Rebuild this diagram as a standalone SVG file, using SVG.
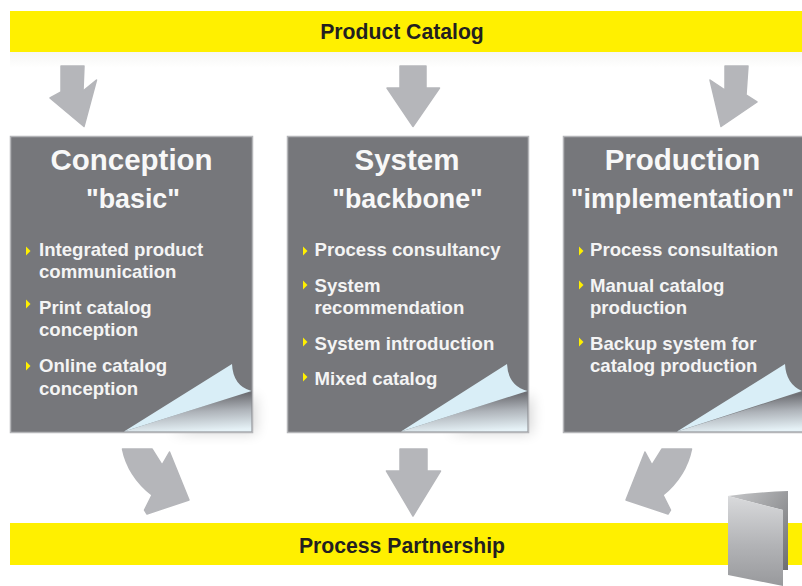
<svg xmlns="http://www.w3.org/2000/svg" width="802" height="586" viewBox="0 0 802 586">
<style>
.bar{fill:#fff000}
.bt{font:bold 21.200px "Liberation Sans",Arial,sans-serif;fill:#231f20;text-anchor:middle}
.box{fill:#76777b;stroke:#b4b5b8;stroke-width:1.5}
.ti{font:bold 29.500px "Liberation Sans",Arial,sans-serif;fill:#f8f8f8;text-anchor:middle}
.su{font:bold 26.800px "Liberation Sans",Arial,sans-serif;fill:#f8f8f8;text-anchor:middle}
.it{font:bold 18.600px "Liberation Sans",Arial,sans-serif;fill:#f4f4f4}
.bu{fill:#fff000}
.ar{fill:#b5b6ba;stroke:#b5b6ba;stroke-width:1.5;stroke-linejoin:round}
.fold{fill:#d9eef7}
.under{fill:url(#under)}
.shade{fill:#000;opacity:.16;filter:url(#blur)}
</style>
<defs>
<linearGradient id="under" gradientUnits="objectBoundingBox" x1=".42" y1="0.15" x2=".55" y2="1">
<stop offset="0" stop-color="#6f7075"/><stop offset=".45" stop-color="#aeb3b9"/><stop offset="1" stop-color="#e6f2f7"/>
</linearGradient>
<linearGradient id="front" x1="0" y1="0" x2="0" y2="1">
<stop offset="0" stop-color="#d9dadc"/><stop offset=".55" stop-color="#b2b3b6"/><stop offset="1" stop-color="#98999c"/>
</linearGradient>
<linearGradient id="back" x1="0" y1="0" x2="1" y2="1">
<stop offset="0" stop-color="#c8c9cb"/><stop offset="1" stop-color="#6d6e71"/>
</linearGradient>
<linearGradient id="glow" x1="0" y1="0" x2="0" y2="1">
<stop offset="0" stop-color="#f6f6f4"/><stop offset="1" stop-color="#fff"/>
</linearGradient>
<filter id="blur" x="-30%" y="-30%" width="160%" height="160%"><feGaussianBlur stdDeviation="7"/></filter>
<path id="tip" d="M0-4.500 4.500 0 0 4.500Z"/>
</defs>

<rect x="10" y="52" width="792" height="16" fill="url(#glow)"/>

<g id="connectors">
<path class="ar" d="M61 66H84L83 91 96.500 80 84 126.500 50 98 61 92Z"/>
<path class="ar" d="M400 66H426V88H439.500L413 126.500 387 88H400Z"/>
<path class="ar" d="M725 66H748L746 95 757 102 721 126.500 710 80 725 90Z"/>
<path class="ar" d="M122.500 449H152L162 465 169.500 452 189 500 147 514 144.500 510 152 495Q128 476 122.500 449Z"/>
<path class="ar" d="M400 449H427V471H440.500L413 516 386.500 471H400Z"/>
<path class="ar" d="M691.500 449H662L652 465 645 452 626 500 668 514 670.500 510 663 495Q686 476 691.500 449Z"/>
</g>

<g id="product-catalog">
<rect class="bar" x="10" y="11" width="792" height="41"/>
<text class="bt" x="402" y="39">Product Catalog</text>
</g>

<g id="conception">
<path class="shade" d="M170 433L256 395V433Z"/>
<rect class="box" x="10.500" y="136.500" width="242" height="296"/>
<path class="under" d="M124 431.500 251.500 391V431.500Z"/>
<path class="fold" d="M124 431.500 232 364Q233 386 251.500 391Z"/>
<text class="ti" x="131.500" y="170">Conception</text>
<text class="su" x="133" y="208">"basic"</text>
<use class="bu" href="#tip" x="26" y="251"/>
<use class="bu" href="#tip" x="26" y="304"/>
<use class="bu" href="#tip" x="26" y="366"/>
<text class="it" x="39" y="256">Integrated product</text>
<text class="it" x="39" y="278">communication</text>
<text class="it" x="39" y="314">Print catalog</text>
<text class="it" x="39" y="336">conception</text>
<text class="it" x="39" y="372">Online catalog</text>
<text class="it" x="39" y="394.500">conception</text>
</g>

<g id="system">
<path class="shade" d="M447 433L532 395V433Z"/>
<rect class="box" x="287.500" y="136.500" width="241" height="296"/>
<path class="under" d="M401 431.500 527.500 391V431.500Z"/>
<path class="fold" d="M401 431.500 507 364Q508 386 527.500 391Z"/>
<text class="ti" x="407" y="170">System</text>
<text class="su" x="407.500" y="208">"backbone"</text>
<use class="bu" href="#tip" x="303" y="251"/>
<use class="bu" href="#tip" x="303" y="285"/>
<use class="bu" href="#tip" x="303" y="342"/>
<use class="bu" href="#tip" x="303" y="377"/>
<text class="it" x="314.500" y="256">Process consultancy</text>
<text class="it" x="314.500" y="292">System</text>
<text class="it" x="314.500" y="314">recommendation</text>
<text class="it" x="314.500" y="350">System introduction</text>
<text class="it" x="314.500" y="385">Mixed catalog</text>
</g>

<g id="production">
<rect class="box" x="563.500" y="136.500" width="240" height="296"/>
<path class="under" d="M677 431.500 802 392V431.500Z"/>
<path class="fold" d="M677 431.500 785 364Q786 384 802 391Z"/>
<text class="ti" x="682.500" y="170">Production</text>
<text class="su" x="682.500" y="208">"implementation"</text>
<use class="bu" href="#tip" x="579" y="251"/>
<use class="bu" href="#tip" x="579" y="285"/>
<use class="bu" href="#tip" x="579" y="342"/>
<text class="it" x="590" y="256">Process consultation</text>
<text class="it" x="590" y="292">Manual catalog</text>
<text class="it" x="590" y="314">production</text>
<text class="it" x="590" y="350">Backup system for</text>
<text class="it" x="590" y="372">catalog production</text>
</g>

<g id="process-partnership">
<rect class="bar" x="10" y="523" width="792" height="42"/>
<text class="bt" x="402" y="553">Process Partnership</text>
</g>

<g id="folder">
<path d="M728 496Q760 492 788 491V570L783 570V510Z" fill="url(#back)"/>
<path d="M728 496 783 510V586L728 575Z" fill="url(#front)"/>
</g>
</svg>
